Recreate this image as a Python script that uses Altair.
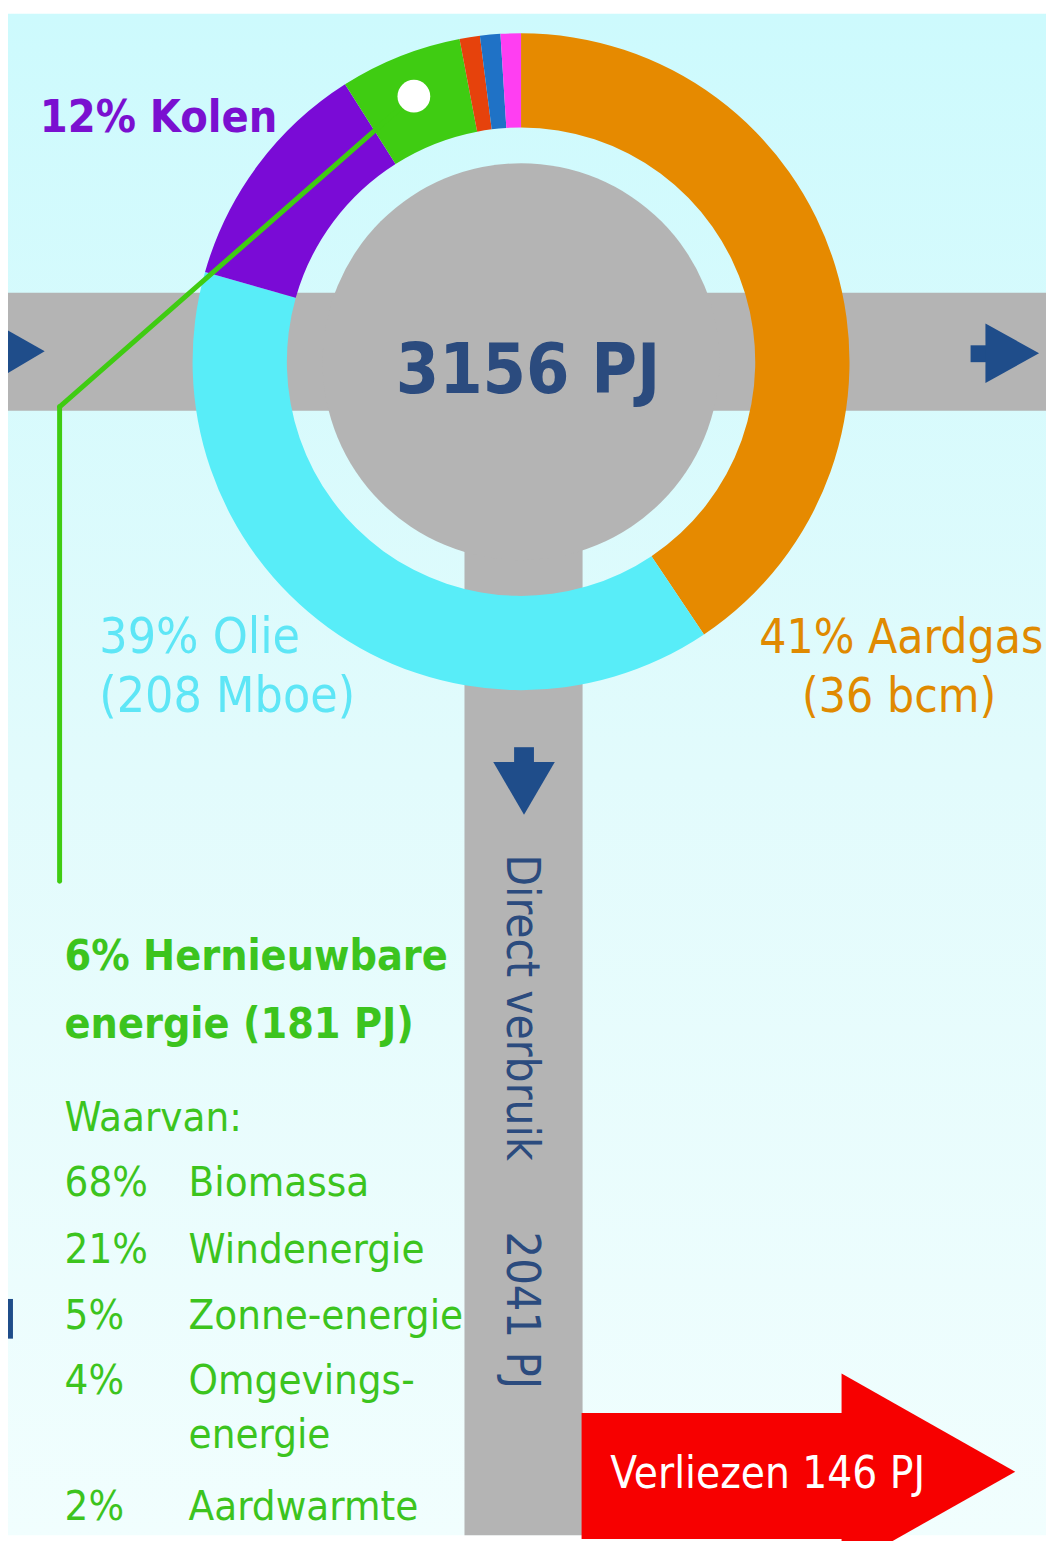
import math
import altair as alt
import pandas as pd

# ---------------- data ----------------
slice_names = ["Aardgas", "Olie", "Kolen", "Hernieuwbare energie",
               "Kernenergie", "Elektriciteit", "Overig"]
slice_values = [40.6, 38.8, 11.6, 6.0, 1.0, 1.0, 1.0]
slice_colors = ["#e68a00", "#58edf8", "#7a0bd6", "#3fcc12",
                "#e6420c", "#1f72c6", "#ff3ef2"]

total_label = "3156 PJ"
kolen_label = "12% Kolen"
olie_label = ["39% Olie", "(208 Mboe)"]
gas_label = ["41% Aardgas", "(36 bcm)"]
renew_title = ["6% Hernieuwbare", "energie (181 PJ)"]
renew_intro = "Waarvan:"
renew_pct = ["68%", "21%", "5%", "4%", "", "2%"]
renew_src = ["Biomassa", "Windenergie", "Zonne-energie", "Omgevings-", "energie", "Aardwarmte"]
direct_label = "Direct verbruik"
direct_value = "2041 PJ"
loss_label = "Verliezen 146 PJ"

# ---------------- layout / style ----------------
W, H = 1046, 1533
OFF = 8  # page margin: reference coordinates are image pixels


def X(v):
    return v - OFF


def Y(v):
    return v - OFF


FONT = "'Liberation Sans Narrow', 'Arial Narrow', 'DejaVu Sans Condensed', sans-serif"
GRAY = "#b4b4b4"
DARK = "#1f4d8a"
TXT_DARK = "#2b4b7e"
GREEN_TXT = "#3cc41e"
GREEN_LINE = "#3fcc12"
RED = "#f70000"

CX, CY = X(525), Y(358.5)
R_OUT, R_IN = 331, 236
R_HUB = 200

one = pd.DataFrame({"k": [0]})
layers = []

# background gradient
layers.append(
    alt.Chart(one).mark_rect(
        color=alt.LinearGradient(
            gradient="linear",
            stops=[alt.GradientStop(color="#cdfafd", offset=0),
                   alt.GradientStop(color="#e2fbfc", offset=0.5),
                   alt.GradientStop(color="#f1fefe", offset=1)],
            x1=0, x2=0, y1=0, y2=1)
    ).encode(x=alt.value(0), x2=alt.value(W), y=alt.value(0), y2=alt.value(H))
)


def rect(x0, y0, x1, y1, color):
    return alt.Chart(one).mark_rect(color=color).encode(
        x=alt.value(X(x0)), x2=alt.value(X(x1)), y=alt.value(Y(y0)), y2=alt.value(Y(y1)))


def poly(points, color):
    path = "M" + "L".join(f"{X(px)},{Y(py)}" for px, py in points) + "Z"
    return alt.Chart(one).mark_point(
        shape=path, size=4, filled=True, fill=color, color=color,
        strokeWidth=0, opacity=1
    ).encode(x=alt.value(0), y=alt.value(0))


def disc(cx, cy, r, color):
    return alt.Chart(one).mark_arc(
        radius=r, theta=0, theta2=2 * math.pi, color=color
    ).encode(x=alt.value(X(cx)), y=alt.value(Y(cy)))


# roads
layers.append(rect(8, 289, 1054, 408, GRAY))
layers.append(rect(468, 400, 587, 1541, GRAY))
layers.append(disc(525, 358.5, R_HUB, GRAY))

# donut
donut_df = pd.DataFrame({"name": slice_names, "value": slice_values,
                         "ord": list(range(len(slice_names)))})
layers.append(
    alt.Chart(donut_df).mark_arc(radius=R_OUT, radius2=R_IN, strokeWidth=0).encode(
        theta=alt.Theta("value:Q", stack=True),
        color=alt.Color("name:N", scale=alt.Scale(domain=slice_names, range=slice_colors),
                        legend=None),
        order=alt.Order("ord:Q"),
        x=alt.value(CX), y=alt.value(CY),
    )
)

# green leader line, then the white dot on top
for (a, b), (c, d) in [((417, 91), (60, 404)), ((60, 404), (60, 882))]:
    layers.append(
        alt.Chart(one).mark_rule(color=GREEN_LINE, strokeWidth=5, strokeCap="round").encode(
            x=alt.value(X(a)), y=alt.value(Y(b)), x2=alt.value(X(c)), y2=alt.value(Y(d)))
    )
layers.append(disc(417, 91, 16.5, "#ffffff"))

# arrows on roads
layers.append(poly([(8, 327), (45, 348), (8, 370)], DARK))
layers.append(rect(978, 342, 995, 359, DARK))
layers.append(poly([(993, 320), (1047, 350), (993, 380)], DARK))
layers.append(rect(518, 747, 538, 763, DARK))
layers.append(poly([(497, 762), (559, 762), (528, 815)], DARK))
layers.append(rect(8, 1303, 13, 1343, DARK))

# red loss arrow
layers.append(rect(586, 1418, 849, 1545, RED))
layers.append(poly([(848, 1378), (1023, 1477), (848, 1576)], RED))


def txt(text, x, y, size, color, weight="normal", align="left", angle=0, baseline="alphabetic"):
    return alt.Chart(pd.DataFrame({"t": [text]})).mark_text(
        font=FONT, fontSize=size, fontWeight=weight, color=color,
        align=align, baseline=baseline, angle=angle
    ).encode(text="t:N", x=alt.value(X(x)), y=alt.value(Y(y)))


layers.append(txt(kolen_label, 40, 127, 45, "#7a10d0", "bold"))
layers.append(txt(total_label, 532, 390, 70, TXT_DARK, "bold", align="center"))
layers.append(txt(olie_label[0], 100, 652, 50, "#5ee6f6"))
layers.append(txt(olie_label[1], 100, 712, 50, "#5ee6f6"))
layers.append(txt(gas_label[0], 765, 652, 48, "#e08a00"))
layers.append(txt(gas_label[1], 906, 712, 48, "#e08a00", align="center"))
layers.append(txt(renew_title[0], 65, 972, 43, GREEN_TXT, "bold"))
layers.append(txt(renew_title[1], 65, 1040, 43, GREEN_TXT, "bold"))
layers.append(txt(renew_intro, 65, 1134, 42, GREEN_TXT))
row_base = [1199, 1267, 1333, 1399, 1453, 1526]
for p, s, yb in zip(renew_pct, renew_src, row_base):
    if p:
        layers.append(txt(p, 65, yb, 42, GREEN_TXT))
    layers.append(txt(s, 190, yb, 42, GREEN_TXT))

layers.append(txt(direct_label, 525, 855, 46, TXT_DARK, angle=90, baseline="middle"))
layers.append(txt(direct_value, 525, 1235, 47, TXT_DARK, angle=90, baseline="middle"))
layers.append(txt(loss_label, 615, 1494, 44, "#ffffff"))

chart = alt.layer(*layers).properties(
    width=W, height=H, padding=0, autosize=alt.AutoSizeParams(type="none"),
    background="#ffffff"
).configure_view(strokeWidth=0)

chart.save("out.html", embed_options={"renderer": "svg", "actions": False})
